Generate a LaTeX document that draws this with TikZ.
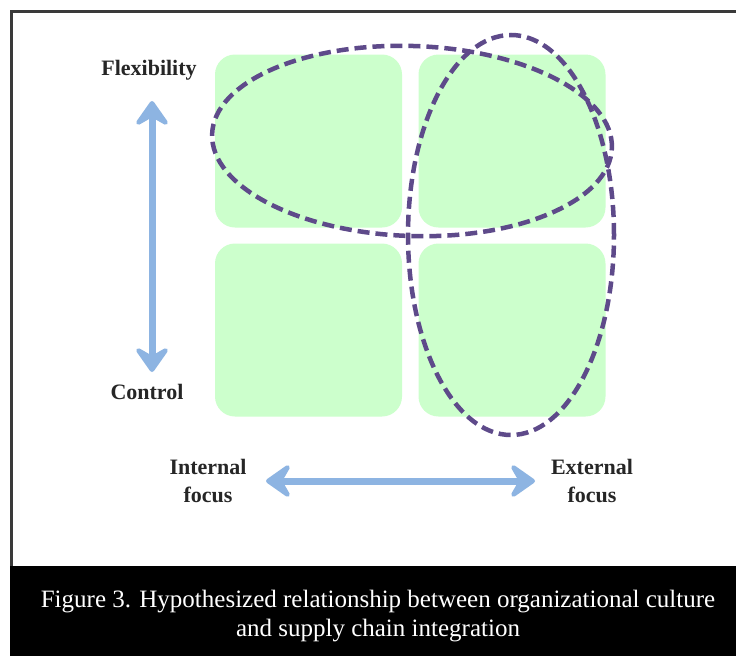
\documentclass[tikz,border=0pt]{standalone}
\usepackage{fontspec}
\setmainfont{Liberation Serif}
\usetikzlibrary{arrows.meta}
\definecolor{quadgreen}{HTML}{CCFFCC}
\definecolor{ovalpurple}{HTML}{5E4A8A}
\definecolor{axisblue}{HTML}{8DB4E2}
\definecolor{framegray}{HTML}{3A3A3A}
\tikzset{
  axishead/.tip={Stealth[length=30pt 0 0,width=42pt 0 0,inset=12pt 0,round]},
  quad/.style={fill=quadgreen, rounded corners=20pt, minimum width=187pt, minimum height=173pt, inner sep=0pt, draw=none},
  oval/.style={draw=ovalpurple, line width=4.5pt, dash pattern=on 12pt off 6pt},
  axis/.style={draw=axisblue, line width=7pt, axishead-axishead},
  lbl/.style={font=\fontsize{22}{28}\selectfont\bfseries, text=black!85, align=center, inner sep=0pt},
  captiontext/.style={font=\fontsize{25}{29}\selectfont, text=white, align=center, inner sep=0pt}
}
\begin{document}
\begin{tikzpicture}[x=1pt,y=-1pt]
\useasboundingbox (0,0) rectangle (736,656);
\fill[white] (0,0) rectangle (736,656);
% frame
\draw[framegray, line width=3pt] (11,567) -- (11,11) -- (745,11);
% caption band
\fill[black] (10,566) rectangle (736,656);
\node[captiontext] (caption) at (378,616) {Figure 3. Hypothesized relationship between organizational culture\\and supply chain integration};
% quadrants
\node[quad] (q1) at (308.5,141) {};
\node[quad] (q2) at (512,141) {};
\node[quad] (q3) at (308.5,330) {};
\node[quad] (q4) at (512,330) {};
% ovals
\draw[oval, rotate around={-2:(412,141)}] (412,141) ellipse [x radius=200pt, y radius=95pt];
\draw[oval] (511,235) ellipse [x radius=103pt, y radius=200pt];
% axis labels
\node[lbl] (flex) at (149,70) {Flexibility};
\node[lbl] (ctrl) at (147,392) {Control};
\node[lbl] (intf) at (208,481) {Internal\\focus};
\node[lbl] (extf) at (592,481) {External\\focus};
% arrows
\coordinate (vtop) at (152,101);
\coordinate (vbot) at (152,372);
\coordinate (hleft) at (266,481);
\coordinate (hright) at (535,481);
\draw[axis] (vtop) -- (vbot);
\draw[axis] (hleft) -- (hright);
\end{tikzpicture}
\end{document}
